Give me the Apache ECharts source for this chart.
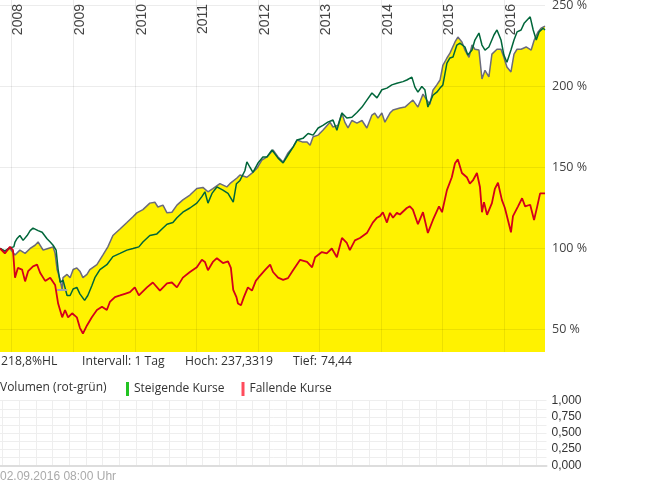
<!DOCTYPE html>
<html><head><meta charset="utf-8">
<script src="https://cdn.jsdelivr.net/npm/echarts@6/dist/echarts.min.js"></script>
<style>html,body{margin:0;padding:0;background:#fff}#c{width:645px;height:483px}</style>
</head><body><div id="c"></div>
<script>
const axisStart = '2007-10-24';
const axisEnd = '2016-08-31';

const grayDates = ['2007-10-24','2007-11-22','2007-12-22','2008-01-21','2008-02-19','2008-03-21','2008-04-20','2008-05-19','2008-06-06','2008-07-06','2008-08-04','2008-09-03','2008-09-15','2008-09-27','2008-10-15','2008-10-27','2008-11-01','2008-11-25','2008-12-13','2008-12-31','2009-01-22','2009-02-09','2009-02-27','2009-03-23','2009-04-09','2009-05-21','2009-06-26','2009-07-25','2009-08-24','2009-10-05','2009-11-15','2009-12-21','2010-01-13','2010-02-18','2010-03-31','2010-04-30','2010-05-18','2010-06-17','2010-07-11','2010-08-09','2010-09-08','2010-10-13','2010-11-24','2011-01-04','2011-02-09','2011-03-11','2011-04-09','2011-05-21','2011-07-01','2011-07-19','2011-08-30','2011-09-17','2011-10-28','2011-11-27','2011-12-27','2012-01-25','2012-02-24','2012-03-31','2012-04-30','2012-05-30','2012-06-28','2012-07-28','2012-08-21','2012-09-20','2012-10-19','2012-11-06','2012-11-24','2012-12-24','2013-01-21','2013-03-04','2013-03-22','2013-04-20','2013-05-14','2013-05-31','2013-06-19','2013-07-12','2013-08-11','2013-09-10','2013-10-09','2013-11-08','2013-11-25','2013-12-14','2014-01-06','2014-01-24','2014-02-23','2014-03-13','2014-04-23','2014-05-23','2014-06-21','2014-07-09','2014-08-08','2014-09-07','2014-09-30','2014-10-18','2014-11-05','2014-11-28','2014-12-17','2015-01-03','2015-01-27','2015-02-14','2015-03-16','2015-04-02','2015-04-26','2015-05-14','2015-06-07','2015-06-25','2015-07-12','2015-08-05','2015-08-23','2015-09-10','2015-10-03','2015-10-21','2015-11-20','2015-12-14','2015-12-31','2016-01-18','2016-02-11','2016-02-29','2016-03-18','2016-04-11','2016-05-11','2016-06-10','2016-06-28','2016-07-21','2016-08-08','2016-08-31'];
const grayValues = [100,98,100,96,99,97,100,102,104,99,100,101,97,87,80.5,74.44,82,84,82,87,88,86,82,84,87,90,96,101,108,112,116,119.6,122,124,128,128.6,125.6,126.8,122,122.4,126.8,130,133,137,137.7,135,137,140,138,140,143.5,145.4,144,146.5,149.6,154.6,156.5,160.8,156.5,153.4,159,162.6,167,165.8,165.8,163.8,169,170,173,178,175,176,183.6,178,174.4,179,177.4,179,174.4,182.4,183.6,180.5,183.6,178,183.6,185.5,186.7,187.3,190,191.6,187.3,195.3,191.6,189,197.7,201,204,213,217.6,220.6,227.5,230.5,227.5,222.5,218,225.6,223,222.5,204.7,210,206,220,223,223,218,212,209,220,223,223,224.4,222.5,228.7,233.7,236,237.33];

const greenDates = ['2007-10-24','2007-11-22','2007-12-22','2008-01-14','2008-01-21','2008-02-01','2008-02-19','2008-03-09','2008-04-02','2008-04-20','2008-05-07','2008-06-06','2008-06-30','2008-07-29','2008-08-17','2008-09-03','2008-09-21','2008-10-03','2008-10-15','2008-11-01','2008-11-25','2008-12-13','2008-12-31','2009-01-22','2009-02-09','2009-03-09','2009-03-28','2009-04-21','2009-05-09','2009-06-08','2009-07-19','2009-08-24','2009-10-05','2009-11-15','2009-12-21','2010-01-25','2010-02-18','2010-03-31','2010-05-12','2010-06-11','2010-07-11','2010-08-15','2010-09-08','2010-10-13','2010-11-24','2011-01-04','2011-02-03','2011-02-21','2011-03-11','2011-04-04','2011-05-03','2011-06-08','2011-07-08','2011-08-08','2011-08-27','2011-09-17','2011-10-16','2011-10-28','2011-11-16','2011-12-03','2012-01-01','2012-01-31','2012-02-24','2012-03-25','2012-04-30','2012-05-30','2012-06-28','2012-07-28','2012-08-21','2012-09-25','2012-10-25','2012-11-24','2012-12-24','2013-01-21','2013-02-19','2013-03-22','2013-04-14','2013-05-14','2013-06-12','2013-07-12','2013-08-11','2013-09-10','2013-10-09','2013-11-08','2013-12-08','2014-01-06','2014-02-05','2014-03-06','2014-04-05','2014-05-11','2014-06-03','2014-07-03','2014-07-21','2014-08-08','2014-08-31','2014-09-18','2014-10-06','2014-11-05','2014-11-28','2014-12-17','2015-01-03','2015-01-27','2015-02-14','2015-03-04','2015-03-27','2015-04-14','2015-05-14','2015-05-31','2015-06-25','2015-07-12','2015-08-05','2015-08-23','2015-09-10','2015-10-03','2015-11-02','2015-11-20','2015-12-14','2015-12-31','2016-01-18','2016-02-11','2016-02-29','2016-03-18','2016-04-11','2016-04-29','2016-05-17','2016-06-04','2016-06-22','2016-07-10','2016-07-27','2016-08-20','2016-08-31'];
const greenValues = [100,98.5,100.5,101,104,106,108,105,108,111,112.6,111,110,106,104,102,99,87,79,80.5,71,71,75,76,72,68,71,77,82,87,90,95,97,99,100,101,104,108,109,112,115,116,119,122.4,125,128,132,135,128,134,138,136,134,128.6,140,142,148,153.5,150,147,152.6,156.5,156.5,160.8,155.8,152.8,157.7,162.6,167,168,171,170,174.4,176,178,179.3,173,183.6,180.5,181,184,187.3,191.6,196,193,198,199,201,202,203,204,205.8,199.6,196.5,200,198,187.3,194.6,196.5,199,201,214.4,217.6,218.2,225.6,226.8,224.4,219.4,222.5,228.7,233,225.6,222.5,224.4,231.8,234.9,228.7,219.4,215,222.5,228.7,233.7,234.9,239,241,243,234.9,228.7,233.7,236,234.9];

const redDates = ['2007-10-24','2007-11-22','2007-12-22','2008-01-09','2008-01-21','2008-02-07','2008-03-03','2008-03-21','2008-04-08','2008-05-07','2008-05-31','2008-06-18','2008-07-18','2008-08-17','2008-09-15','2008-10-03','2008-10-27','2008-11-13','2008-12-01','2008-12-25','2009-01-22','2009-02-09','2009-02-27','2009-03-23','2009-04-21','2009-05-21','2009-06-20','2009-07-19','2009-08-06','2009-09-05','2009-10-05','2009-11-03','2009-12-03','2010-01-01','2010-01-25','2010-03-14','2010-04-18','2010-05-30','2010-07-11','2010-08-09','2010-09-08','2010-10-13','2010-11-24','2011-01-04','2011-02-03','2011-02-21','2011-03-11','2011-04-09','2011-05-03','2011-06-08','2011-07-08','2011-07-25','2011-08-08','2011-08-27','2011-09-05','2011-09-23','2011-10-10','2011-11-03','2011-11-27','2011-12-20','2012-01-12','2012-02-12','2012-03-14','2012-03-31','2012-04-30','2012-05-30','2012-06-28','2012-07-28','2012-09-08','2012-10-19','2012-11-18','2012-12-06','2013-01-15','2013-02-13','2013-03-15','2013-04-14','2013-05-14','2013-06-12','2013-06-30','2013-07-30','2013-08-29','2013-10-09','2013-11-13','2013-12-08','2013-12-26','2014-01-12','2014-02-05','2014-02-23','2014-03-13','2014-04-05','2014-04-23','2014-06-03','2014-06-21','2014-07-09','2014-08-08','2014-09-07','2014-10-06','2014-11-05','2014-12-11','2014-12-29','2015-01-27','2015-02-25','2015-03-16','2015-04-02','2015-04-26','2015-05-25','2015-06-12','2015-06-30','2015-07-24','2015-08-11','2015-08-23','2015-09-04','2015-09-22','2015-10-21','2015-11-08','2015-11-26','2015-12-19','2016-01-06','2016-01-24','2016-02-11','2016-02-23','2016-03-24','2016-04-17','2016-05-05','2016-06-04','2016-06-27','2016-07-16','2016-08-02','2016-08-31'];
const redValues = [100,97,101,99,82,88,87,79.7,86,89,90,85,80,82,77.5,66,57.5,62,57.5,60,57.5,51,47.5,52.5,57.5,62,64,62,67,70,71,72,73,76,71,76,79,74,78.5,79,76,82,85.5,88.4,93,91.7,86.6,91.7,94,91,92,88,74.5,70,66,65,70,76,74,80,83,86.6,90,85.5,82,80.6,81.7,86.6,93,91.7,88.4,94.6,97.8,97,100,94.6,106.5,103.4,99,105,106.5,109.5,116,119,120,122.4,116,122,119,122,121,125,126,124,115,122.4,109.6,117.6,126,122.4,136,144,152.6,155,146.6,144,140,142,146.6,138,122.4,128.6,120.8,128,137,140.6,130,125,117.6,110,120,126,131,126,127,117.6,126,134,134];

const infoTexts = ['218,8%HL', 'Intervall: 1 Tag', 'Hoch: 237,3319', 'Tief:', '74,44'];
const volumeTitle = 'Volumen (rot-grün)';
const legendNames = ['Steigende Kurse', 'Fallende Kurse'];
const timestampText = '02.09.2016 08:00 Uhr';

const DAY = 24 * 3600 * 1000;
const zip = (d, v) => d.map((x, i) => [x, v[i]]);
const grayData = zip(grayDates, grayValues);
let hi = 0, lo = 0;
grayValues.forEach((v, i) => { if (v > grayValues[hi]) hi = i; if (v < grayValues[lo]) lo = i; });
const seg = (i) => {
  const t = +new Date(grayDates[i]);
  return [{ coord: [t - 30 * DAY, grayValues[i]] }, { coord: [t + 30 * DAY, grayValues[i]] }];
};

const chart = echarts.init(document.getElementById('c'), null, { renderer: 'canvas' });
const mainFont = "'Open Sans', sans-serif";
const armFont = "'Liberation Sans', Arial, sans-serif";
const gridLine = 'rgba(0,0,0,0.075)';
const infoFont = "12.2px 'Open Sans'";

chart.setOption({
  animation: false,
  backgroundColor: '#fff',
  grid: [
    { left: 0, right: 100, top: 0, height: 352, outerBoundsMode: 'none', containLabel: false },
    { left: 0, right: 98.5, top: 400.7, height: 64.6, outerBoundsMode: 'none', containLabel: false }
  ],
  xAxis: [
    {
      type: 'time', gridIndex: 0, position: 'top', min: axisStart, max: axisEnd, z: 5,
      splitNumber: 9, minInterval: 365 * DAY, maxInterval: 366 * DAY,
      axisLine: { show: false }, axisTick: { show: false },
      axisLabel: {
        inside: true, rotate: -90, verticalAlign: 'top', margin: 4,
        formatter: '{yyyy}', fontFamily: armFont, fontSize: 14, color: '#444',
        showMinLabel: false, showMaxLabel: false
      },
      splitLine: { show: true, showMinLine: false, showMaxLine: false, lineStyle: { color: gridLine, width: 1 } }
    },
    {
      type: 'time', gridIndex: 1, min: axisStart, max: axisEnd,
      splitNumber: 9, minInterval: 365 * DAY, maxInterval: 366 * DAY,
      axisLine: { show: true, lineStyle: { color: '#ddd', width: 2 } }, axisTick: { show: false },
      axisLabel: { show: false },
      splitLine: { show: true, showMinLine: false, showMaxLine: false, lineStyle: { color: '#eee', width: 1 } }
    }
  ],
  yAxis: [
    {
      type: 'value', gridIndex: 0, position: 'right', min: 36.1, max: 253.4, splitNumber: 4, z: 5,
      axisLine: { show: false }, axisTick: { show: false },
      axisLabel: {
        formatter: '{value} %', fontFamily: mainFont, fontSize: 12.5, color: '#444', margin: 7,
        showMinLabel: false, showMaxLabel: false
      },
      splitLine: { show: true, showMinLine: false, showMaxLine: false, lineStyle: { color: gridLine, width: 1 } }
    },
    {
      type: 'value', gridIndex: 1, position: 'right', min: 0, max: 1, interval: 0.125,
      axisLine: { show: false }, axisTick: { show: false },
      axisLabel: {
        formatter: (v) => (Math.abs(v * 4 - Math.round(v * 4)) < 1e-6 ? v.toFixed(3).replace('.', ',') : ''),
        fontFamily: armFont, fontSize: 12, color: '#333', margin: 5
      },
      splitLine: { show: true, lineStyle: { color: '#eee', width: 1 } }
    }
  ],
  legend: {
    data: legendNames, left: 126, top: 382, icon: 'rect', itemWidth: 3, itemHeight: 14, itemGap: 17,
    selectedMode: false, padding: 0,
    textStyle: { fontFamily: mainFont, fontSize: 12, color: '#333' }
  },
  series: [
    {
      name: 'Kurs', type: 'line', data: grayData, showSymbol: false, z: 2,
      lineStyle: { color: '#6b6b7b', width: 1.5 },
      areaStyle: { color: '#fff200', opacity: 1, origin: 'start' },
      markLine: {
        silent: true, symbol: 'none', label: { show: false },
        lineStyle: { color: '#a3a3ad', width: 2, type: 'solid' },
        data: [seg(hi), seg(lo)]
      }
    },
    {
      name: 'Vergleich 1', type: 'line', data: zip(greenDates, greenValues), showSymbol: false, z: 3,
      lineStyle: { color: '#00663a', width: 1.5 }
    },
    {
      name: 'Vergleich 2', type: 'line', data: zip(redDates, redValues), showSymbol: false, z: 4,
      lineStyle: { color: '#d4001a', width: 1.8 }
    },
    { name: legendNames[0], type: 'bar', xAxisIndex: 1, yAxisIndex: 1, data: [], itemStyle: { color: '#22c322' } },
    { name: legendNames[1], type: 'bar', xAxisIndex: 1, yAxisIndex: 1, data: [], itemStyle: { color: '#ff4b5c' } }
  ],
  graphic: [
    { type: 'text', left: 1, top: 356, style: { text: infoTexts[0], font: infoFont, fill: '#333' } },
    { type: 'text', left: 82, top: 356, style: { text: infoTexts[1], font: infoFont, fill: '#333' } },
    { type: 'text', left: 185, top: 356, style: { text: infoTexts[2], font: infoFont, fill: '#333' } },
    { type: 'text', left: 293, top: 356, style: { text: infoTexts[3], font: infoFont, fill: '#333' } },
    { type: 'text', left: 321, top: 356, style: { text: infoTexts[4], font: infoFont, fill: '#333' } },
    { type: 'text', left: 0, top: 382, style: { text: volumeTitle, font: "12px 'Open Sans'", fill: '#333' } },
    { type: 'text', left: 0, top: 471, style: { text: timestampText, font: "12px 'Liberation Sans'", fill: '#aaa' } }
  ]
});
</script></body></html>
